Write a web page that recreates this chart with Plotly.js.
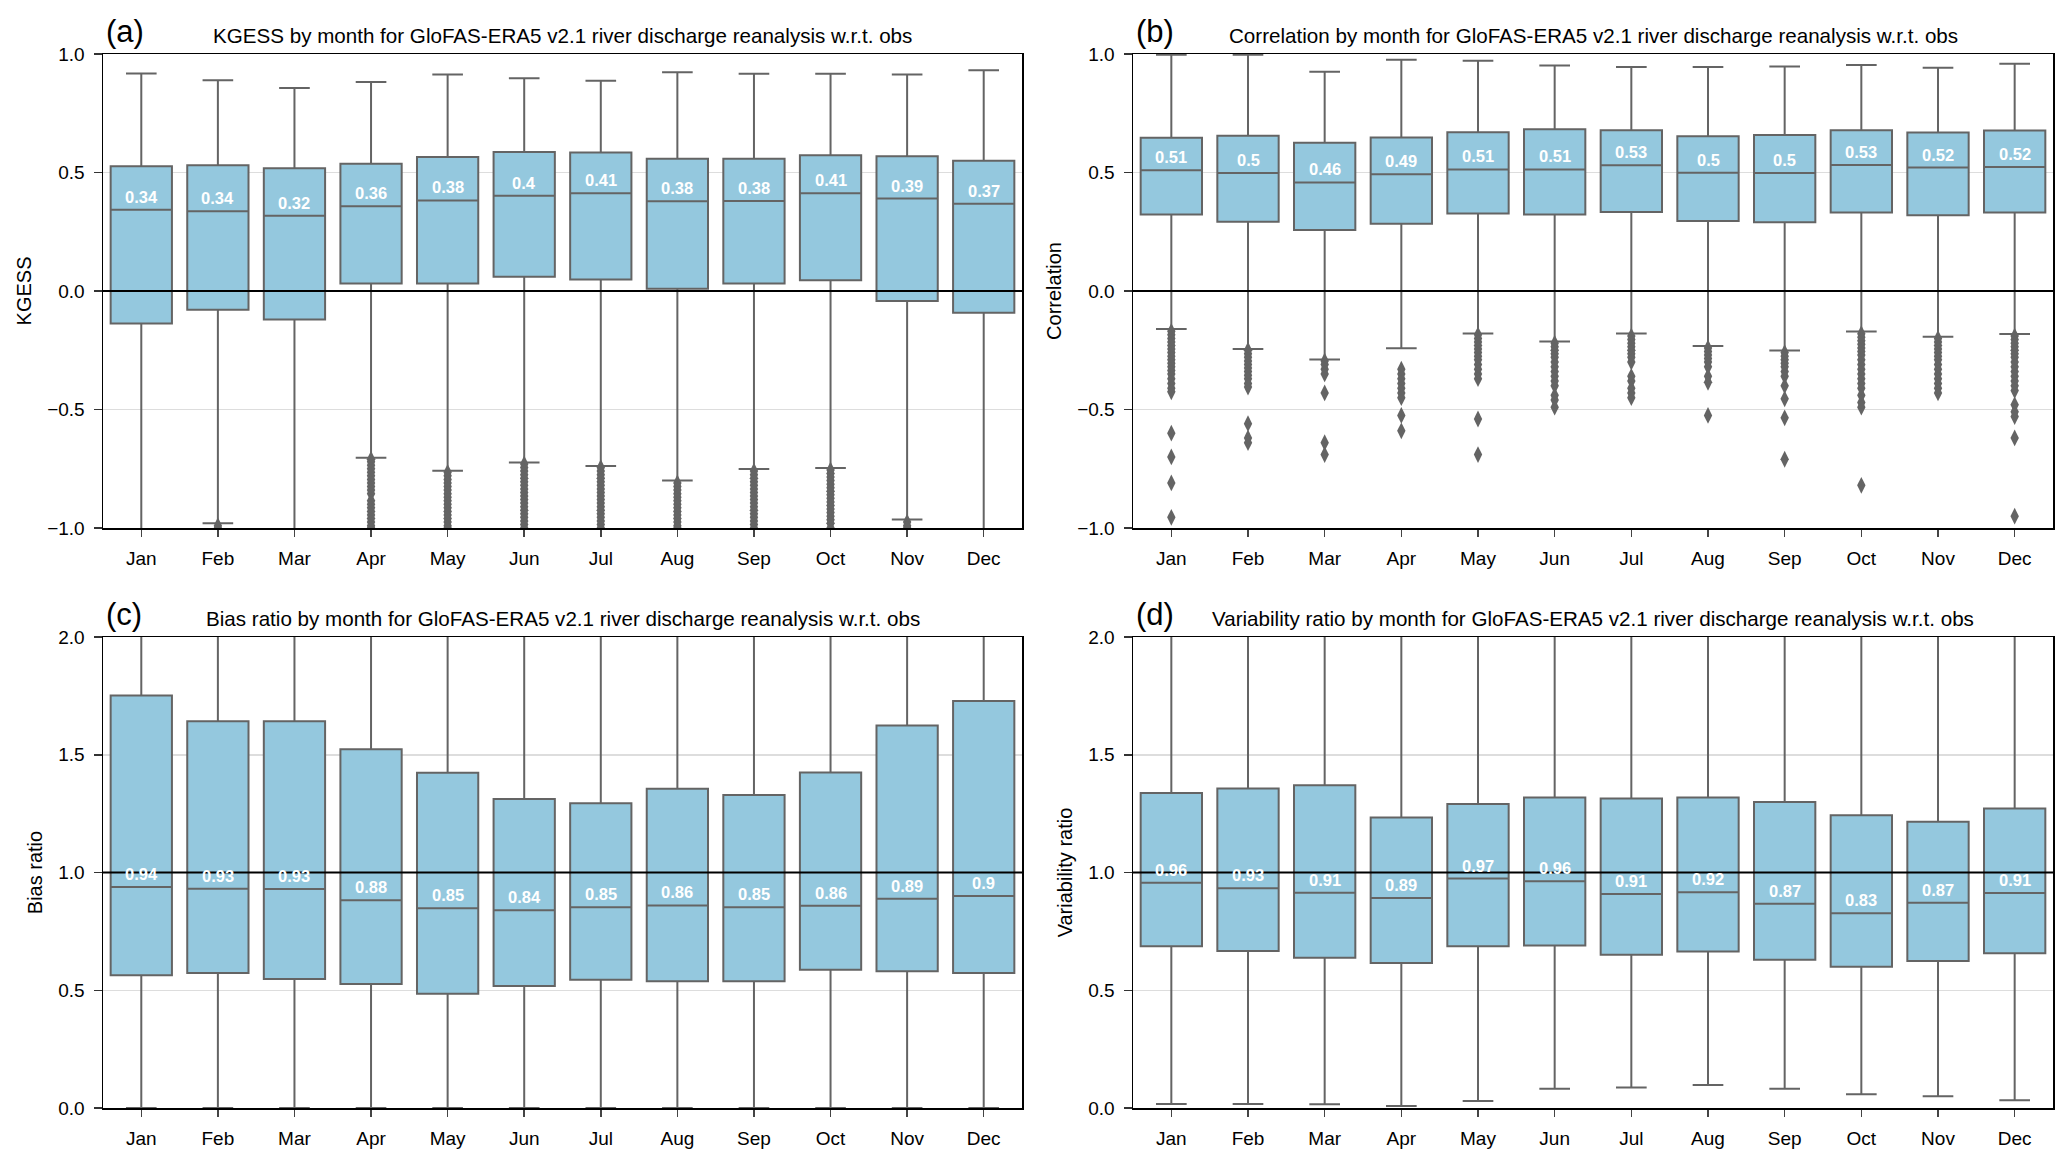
<!DOCTYPE html>
<html>
<head>
<meta charset="utf-8">
<script src="https://cdn.plot.ly/plotly-3.0.1.min.js"></script>
<style>html,body{margin:0;padding:0;background:#fff;}#chart{width:2067px;height:1163px;}</style>
</head>
<body>
<div id="chart"></div>
<script>
const months = ['Jan','Feb','Mar','Apr','May','Jun','Jul','Aug','Sep','Oct','Nov','Dec'];

// (a) KGESS
const kgeQ1  = [-0.137,-0.079,-0.120,0.032,0.032,0.060,0.048,0.010,0.032,0.045,-0.042,-0.092];
const kgeMed = [0.343,0.336,0.318,0.358,0.382,0.402,0.412,0.379,0.380,0.412,0.390,0.368];
const kgeQ3  = [0.526,0.531,0.518,0.537,0.565,0.586,0.584,0.558,0.558,0.573,0.569,0.550];
const kgeLo  = [-1.6,-0.980,-1.6,-0.704,-0.758,-0.724,-0.738,-0.800,-0.751,-0.747,-0.964,-1.6];
const kgeHi  = [0.918,0.889,0.857,0.882,0.914,0.898,0.887,0.923,0.917,0.917,0.914,0.931];
const kgeOut = [
  [],
  [-0.99,-1.0],
  [],
  [-0.71,-0.72,-0.735,-0.75,-0.765,-0.78,-0.795,-0.81,-0.825,-0.84,-0.855,-0.885,-0.9,-0.915,-0.93,-0.945,-0.96,-0.975,-0.99,-1.0],
  [-0.765,-0.78,-0.795,-0.81,-0.825,-0.84,-0.855,-0.87,-0.885,-0.9,-0.915,-0.93,-0.945,-0.96,-0.975,-0.99,-1.0],
  [-0.73,-0.745,-0.76,-0.775,-0.79,-0.805,-0.82,-0.835,-0.85,-0.865,-0.88,-0.895,-0.91,-0.925,-0.94,-0.955,-0.97,-0.985,-1.0],
  [-0.745,-0.76,-0.775,-0.79,-0.805,-0.82,-0.835,-0.85,-0.865,-0.88,-0.895,-0.91,-0.925,-0.94,-0.955,-0.97,-0.985,-1.0],
  [-0.81,-0.825,-0.84,-0.855,-0.87,-0.885,-0.9,-0.915,-0.93,-0.945,-0.96,-0.975,-0.99,-1.0],
  [-0.76,-0.775,-0.79,-0.805,-0.82,-0.835,-0.85,-0.865,-0.88,-0.895,-0.91,-0.925,-0.94,-0.955,-0.97,-0.985,-1.0],
  [-0.755,-0.77,-0.785,-0.8,-0.815,-0.83,-0.845,-0.86,-0.875,-0.89,-0.905,-0.92,-0.935,-0.95,-0.965,-0.98,-1.0],
  [-0.975,-0.99,-1.0],
  []
];

// (b) Correlation
const corQ1  = [0.323,0.292,0.257,0.284,0.327,0.323,0.333,0.295,0.290,0.331,0.320,0.331];
const corMed = [0.509,0.498,0.458,0.493,0.513,0.513,0.531,0.499,0.498,0.532,0.521,0.523];
const corQ3  = [0.647,0.655,0.626,0.648,0.670,0.683,0.678,0.653,0.658,0.678,0.669,0.677];
const corLo  = [-0.160,-0.245,-0.289,-0.242,-0.179,-0.213,-0.179,-0.232,-0.251,-0.171,-0.193,-0.181];
const corHi  = [0.997,0.997,0.925,0.976,0.972,0.951,0.945,0.945,0.947,0.954,0.942,0.959];
const corOut = [
  [-0.17,-0.185,-0.2,-0.215,-0.23,-0.245,-0.26,-0.275,-0.29,-0.305,-0.32,-0.335,-0.35,-0.37,-0.39,-0.41,-0.425,-0.6,-0.7,-0.81,-0.955],
  [-0.25,-0.265,-0.28,-0.295,-0.31,-0.325,-0.34,-0.355,-0.37,-0.39,-0.405,-0.56,-0.62,-0.64],
  [-0.295,-0.31,-0.33,-0.35,-0.43,-0.64,-0.69],
  [-0.33,-0.35,-0.37,-0.39,-0.41,-0.43,-0.45,-0.525,-0.59],
  [-0.185,-0.2,-0.215,-0.23,-0.245,-0.26,-0.275,-0.29,-0.31,-0.33,-0.35,-0.37,-0.54,-0.69],
  [-0.22,-0.235,-0.25,-0.265,-0.28,-0.3,-0.32,-0.34,-0.36,-0.38,-0.4,-0.44,-0.46,-0.49],
  [-0.19,-0.205,-0.22,-0.235,-0.25,-0.265,-0.28,-0.3,-0.36,-0.38,-0.41,-0.43,-0.45],
  [-0.24,-0.255,-0.27,-0.285,-0.3,-0.32,-0.36,-0.385,-0.525],
  [-0.26,-0.275,-0.29,-0.305,-0.32,-0.34,-0.36,-0.4,-0.455,-0.535,-0.71],
  [-0.18,-0.195,-0.21,-0.225,-0.24,-0.255,-0.27,-0.29,-0.31,-0.33,-0.35,-0.37,-0.39,-0.41,-0.44,-0.47,-0.49,-0.82],
  [-0.2,-0.215,-0.23,-0.245,-0.26,-0.275,-0.29,-0.31,-0.33,-0.35,-0.37,-0.39,-0.41,-0.43],
  [-0.19,-0.205,-0.22,-0.235,-0.25,-0.265,-0.28,-0.3,-0.32,-0.34,-0.36,-0.38,-0.4,-0.42,-0.48,-0.51,-0.53,-0.62,-0.95]
];

// (c) Bias ratio
const biasQ1  = [0.564,0.573,0.548,0.527,0.485,0.518,0.545,0.538,0.538,0.587,0.581,0.573];
const biasMed = [0.938,0.931,0.930,0.882,0.848,0.840,0.852,0.860,0.852,0.859,0.889,0.900];
const biasQ3  = [1.752,1.642,1.642,1.523,1.424,1.312,1.294,1.356,1.329,1.425,1.624,1.728];
const biasLo  = [0.0,0.0,0.0,0.0,0.0,0.0,0.0,0.0,0.0,0.0,0.0,0.0];
const biasHi  = [3.5,3.2,3.2,2.9,2.7,2.5,2.4,2.6,2.5,2.7,3.1,3.4];

// (d) Variability ratio
const varQ1  = [0.687,0.667,0.638,0.616,0.687,0.690,0.651,0.665,0.629,0.600,0.624,0.657];
const varMed = [0.957,0.933,0.914,0.892,0.974,0.963,0.909,0.916,0.867,0.827,0.872,0.913];
const varQ3  = [1.338,1.357,1.371,1.234,1.291,1.318,1.314,1.319,1.299,1.243,1.216,1.272];
const varLo  = [0.017,0.017,0.016,0.008,0.030,0.082,0.087,0.098,0.082,0.058,0.050,0.033];
const varHi  = [2.3,2.3,2.4,2.2,2.3,2.3,2.3,2.3,2.3,2.2,2.1,2.2];

const panelLetters = ['(a)','(b)','(c)','(d)'];
const panelTitles = [
  'KGESS by month for GloFAS-ERA5 v2.1 river discharge reanalysis w.r.t. obs',
  'Correlation by month for GloFAS-ERA5 v2.1 river discharge reanalysis w.r.t. obs',
  'Bias ratio by month for GloFAS-ERA5 v2.1 river discharge reanalysis w.r.t. obs',
  'Variability ratio by month for GloFAS-ERA5 v2.1 river discharge reanalysis w.r.t. obs'
];
const yTitles = ['KGESS','Correlation','Bias ratio','Variability ratio'];
const yRanges = [[-1,1],[-1,1],[0,2],[0,2]];
const yTicks = [[-1,-0.5,0,0.5,1],[-1,-0.5,0,0.5,1],[0,0.5,1,1.5,2],[0,0.5,1,1.5,2]];
const refLines = [0,0,1,1];

const panels = [
  {q1:kgeQ1, med:kgeMed, q3:kgeQ3, lo:kgeLo, hi:kgeHi, out:kgeOut},
  {q1:corQ1, med:corMed, q3:corQ3, lo:corLo, hi:corHi, out:corOut},
  {q1:biasQ1, med:biasMed, q3:biasQ3, lo:biasLo, hi:biasHi, out:null},
  {q1:varQ1, med:varMed, q3:varQ3, lo:varLo, hi:varHi, out:null}
];

const W = 2067, H = 1163;
const xDomPx = [[103,1022],[1133,2053],[103,1022],[1133,2053]];
const yDomPx = [[54,528],[54,528],[637,1108],[637,1108]];

const boxFill = '#94c8de';
const lineCol = '#646464';
const font = 'Liberation Sans, Arial, Helvetica, sans-serif';

const data = [];
const layout = {
  width: W, height: H,
  margin: {l:0,r:0,t:0,b:0},
  paper_bgcolor: '#ffffff', plot_bgcolor: '#ffffff',
  showlegend: false,
  font: {family: font, color: '#000'},
  annotations: [], shapes: []
};

panels.forEach((p, i) => {
  const n = i === 0 ? '' : String(i + 1);
  const xa = 'x' + n, ya = 'y' + n;
  data.push({
    type: 'box', x: months, q1: p.q1, median: p.med, q3: p.q3,
    lowerfence: p.lo, upperfence: p.hi,
    xaxis: xa, yaxis: ya, width: 0.8, whiskerwidth: 0.5,
    fillcolor: boxFill, line: {color: lineCol, width: 2},
    boxpoints: false, hoverinfo: 'skip'
  });
  if (p.out) {
    const ox = [], oy = [];
    p.out.forEach((arr, k) => arr.forEach(v => { ox.push(months[k]); oy.push(v); }));
    data.push({
      type: 'scatter', mode: 'markers', x: ox, y: oy, xaxis: xa, yaxis: ya,
      marker: {symbol: 'diamond-tall', size: 12, color: lineCol, line: {width: 0}},
      hoverinfo: 'skip'
    });
  }
  const xd = [xDomPx[i][0]/W, xDomPx[i][1]/W];
  const yd = [1 - yDomPx[i][1]/H, 1 - yDomPx[i][0]/H];
  layout['xaxis' + n] = {
    domain: xd, anchor: ya, type: 'category', range: [-0.5, 11.5],
    showline: true, mirror: true, linecolor: '#000', linewidth: 1.5,
    ticks: 'outside', ticklen: 7, tickwidth: 1.5, tickcolor: '#444',
    tickfont: {size: 19, family: font, color: '#000'}, ticklabelstandoff: 6,
    showgrid: false, zeroline: false, fixedrange: true
  };
  layout['yaxis' + n] = {
    domain: yd, anchor: xa, range: yRanges[i], tickvals: yTicks[i], tickformat: '.1f',
    showline: true, mirror: true, linecolor: '#000', linewidth: 1.5,
    ticks: 'outside', ticklen: 8, tickwidth: 1.5, tickcolor: '#333',
    tickfont: {size: 19, family: font, color: '#000'}, ticklabelstandoff: 5,
    showgrid: true, gridcolor: '#dddddd', gridwidth: 1.5, zeroline: false,
    title: {text: yTitles[i], font: {size: 20, family: font, color: '#000'}, standoff: 10},
    fixedrange: true
  };
  // median labels
  p.med.forEach((m, k) => {
    layout.annotations.push({
      xref: xa, yref: ya, x: months[k], y: m, yshift: 13, yanchor: 'middle',
      text: String(Math.round(m * 100) / 100), showarrow: false,
      font: {size: 16.5, family: font, color: '#ffffff', weight: 'bold'}
    });
  });
  // title and panel letter
  layout.annotations.push({
    xref: 'paper', yref: 'paper', x: (xd[0] + xd[1]) / 2, xanchor: 'center', y: yd[1], yanchor: 'bottom', yshift: 5,
    text: panelTitles[i], showarrow: false, font: {size: 20.6, family: font, color: '#000'}
  });
  layout.annotations.push({
    xref: 'paper', yref: 'paper', x: xd[0], xshift: 1, y: yd[1], yanchor: 'bottom', yshift: 3,
    xanchor: 'left', text: panelLetters[i], showarrow: false, font: {size: 31, family: font, color: '#000'}
  });
  layout.shapes.push({
    type: 'line', xref: xa + ' domain', yref: ya, x0: 0, x1: 1, y0: refLines[i], y1: refLines[i],
    line: {color: '#000', width: 2}, layer: 'above'
  });
});

Plotly.newPlot('chart', data, layout, {displayModeBar: false, staticPlot: true});
</script>
</body>
</html>
